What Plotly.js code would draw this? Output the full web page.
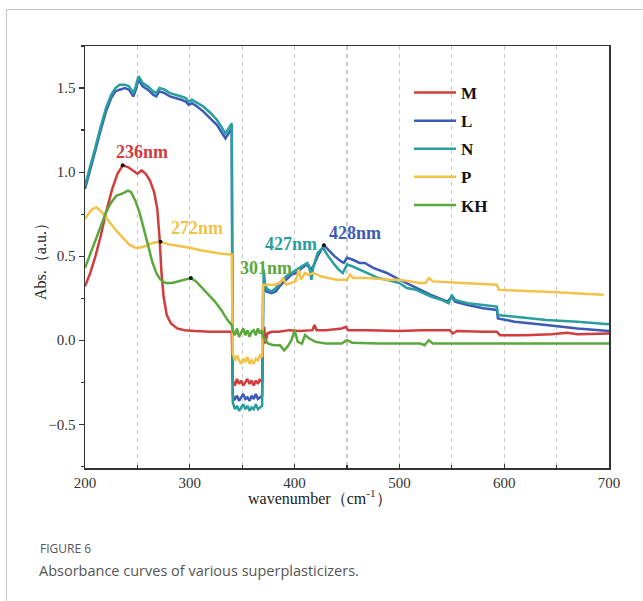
<!DOCTYPE html>
<html>
<head>
<meta charset="utf-8">
<script src="https://cdn.plot.ly/plotly-3.0.1.min.js"></script>
<style>
  html, body { margin: 0; padding: 0; background: #fff; }
  #chart { width: 643px; height: 601px; }
</style>
</head>
<body>
<div id="chart"></div>
<script>
// UV absorbance spectra of five superplasticizers
const seriesNames = ["M", "L", "N", "P", "KH"];
const seriesColors = ["#d23c3c", "#3a5bb8", "#2a9d9d", "#f2c24a", "#5aa83c"];

// M
const mWl = [200,205,210,215,220,226,231,236,241,246,250,254,258,262,266,269,271,273,275,278,282,288,295,305,320,340,
  341,343,345,347,349,351,353,355,357,359,361,363,365,367,369,
  370,371,372,374,378,385,395,405,412,417,419,421,430,445,449,451,470,500,520,540,548,551,555,580,593,596,620,645,660,670,700];
const mAbs = [0.32,0.40,0.50,0.62,0.76,0.90,0.99,1.04,1.03,1.01,0.99,1.01,0.99,0.95,0.88,0.78,0.62,0.40,0.26,0.15,0.10,0.07,0.06,0.055,0.05,0.05,
  -0.24,-0.27,-0.23,-0.26,-0.24,-0.27,-0.25,-0.23,-0.26,-0.24,-0.27,-0.24,-0.26,-0.23,-0.25,
  0.05,0.08,-0.02,0.04,0.05,0.05,0.06,0.055,0.06,0.06,0.09,0.06,0.06,0.07,0.08,0.06,0.06,0.055,0.06,0.06,0.06,0.04,0.055,0.05,0.05,0.03,0.03,0.035,0.045,0.035,0.04];

// L
const lWl = [200,205,210,215,220,225,229,233,238,242,246,248,251,255,260,265,268,271,276,281,287,292,296,299,302,307,313,320,326,330,334,337,340,
  341,343,345,347,349,351,353,355,357,359,361,363,365,367,369,
  370,373,378,382,387,392,397,402,407,412,415,418,422,428,433,438,444,447,450,455,462,467,475,488,500,517,530,546,550,553,565,580,593,594,610,640,670,700];
const lAbs = [0.90,1.01,1.13,1.25,1.36,1.44,1.48,1.49,1.50,1.49,1.45,1.48,1.55,1.51,1.49,1.46,1.45,1.48,1.47,1.45,1.44,1.43,1.42,1.40,1.41,1.39,1.36,1.32,1.28,1.24,1.20,1.23,1.26,
  -0.33,-0.35,-0.33,-0.36,-0.34,-0.32,-0.35,-0.34,-0.36,-0.33,-0.35,-0.32,-0.35,-0.34,-0.33,
  0.32,0.29,0.28,0.29,0.33,0.36,0.39,0.40,0.43,0.45,0.42,0.44,0.50,0.565,0.53,0.50,0.47,0.46,0.49,0.48,0.46,0.46,0.43,0.40,0.36,0.31,0.27,0.23,0.26,0.23,0.21,0.19,0.18,0.13,0.11,0.09,0.07,0.055];

// N
const nWl = [200,205,210,215,220,225,229,233,238,242,246,248,251,255,260,265,268,271,276,281,287,292,296,299,302,307,313,320,326,330,334,337,340,
  341,343,345,347,349,351,353,355,357,359,361,363,365,367,369,
  370.5,372,375,378,382,387,392,397,402,407,412,414,416,418,422,427,432,438,442,446,450,455,462,470,480,488,500,507,516,530,540,547,550,553,565,580,593,594,610,640,670,700];
const nAbs = [0.92,1.03,1.15,1.27,1.38,1.46,1.50,1.52,1.52,1.51,1.47,1.50,1.57,1.53,1.51,1.48,1.47,1.50,1.49,1.47,1.46,1.45,1.44,1.42,1.43,1.41,1.39,1.35,1.31,1.27,1.23,1.26,1.29,
  -0.37,-0.41,-0.39,-0.42,-0.40,-0.38,-0.41,-0.39,-0.42,-0.40,-0.41,-0.38,-0.41,-0.40,-0.39,
  0.42,0.32,0.30,0.29,0.31,0.35,0.38,0.40,0.42,0.44,0.46,0.44,0.36,0.44,0.52,0.55,0.50,0.45,0.42,0.40,0.45,0.44,0.42,0.40,0.37,0.36,0.34,0.31,0.30,0.26,0.24,0.22,0.27,0.24,0.22,0.21,0.20,0.15,0.14,0.12,0.11,0.095];

// P
const pWl = [200,203,207,211,215,220,225,230,236,242,248,252,258,265,272,280,290,300,310,320,330,340,
  341,343,345,347,349,351,353,355,357,359,361,363,365,367,369,
  370,375,380,386,389,392,397,401,404,406,410,413,418,425,432,440,450,453,456,470,490,500,520,525,528,532,560,593,595,620,650,680,695];
const pAbs = [0.72,0.75,0.78,0.79,0.77,0.73,0.69,0.65,0.61,0.57,0.55,0.55,0.56,0.58,0.585,0.57,0.56,0.55,0.535,0.525,0.515,0.51,
  -0.08,-0.12,-0.09,-0.12,-0.14,-0.11,-0.13,-0.10,-0.14,-0.12,-0.14,-0.11,-0.12,-0.09,-0.10,
  0.33,0.33,0.33,0.34,0.37,0.33,0.34,0.35,0.42,0.36,0.40,0.39,0.40,0.38,0.37,0.36,0.36,0.39,0.37,0.37,0.36,0.36,0.34,0.34,0.37,0.35,0.34,0.33,0.30,0.295,0.285,0.275,0.27];

// KH
const khWl = [200,205,210,215,220,225,230,235,238,241,244,248,252,256,260,264,268,272,277,283,290,296,301,306,312,318,324,330,336,340,
  341,343,345,347,349,351,353,355,357,359,361,363,365,367,369,
  370,372,375,380,386,390,393,397,400,403,407,410,414,420,430,445,450,455,480,520,524,528,532,560,700];
const khAbs = [0.43,0.51,0.60,0.68,0.76,0.82,0.86,0.87,0.88,0.89,0.88,0.83,0.76,0.67,0.57,0.47,0.40,0.36,0.34,0.34,0.35,0.36,0.37,0.35,0.31,0.27,0.23,0.18,0.12,0.09,
  0.06,0.03,0.07,0.02,0.05,0.07,0.03,0.06,0.02,0.05,0.06,0.03,0.07,0.04,0.06,
  0.02,0.00,-0.02,-0.03,-0.03,-0.06,-0.04,0.00,0.06,-0.01,-0.02,0.03,0.01,-0.01,-0.02,-0.02,0.00,-0.015,-0.02,-0.02,-0.03,0.00,-0.02,-0.02,-0.02];

// Labelled absorption peaks
const peakWl = [236, 272, 301, 427, 428];
const peakAbs = [1.04, 0.585, 0.37, 0.55, 0.565];
const peakColors = ["#d23c3c", "#f2c24a", "#5aa83c", "#2a9d9d", "#3a5bb8"];
const peakLabelPos = [[254, 1.12], [307, 0.667], [373, 0.43], [397, 0.57], [458, 0.64]];

const xTicks = [200, 300, 400, 500, 600, 700];
const yTicks = [-0.5, 0.0, 0.5, 1.0, 1.5];

const wls = [mWl, lWl, nWl, pWl, khWl];
const abss = [mAbs, lAbs, nAbs, pAbs, khAbs];

const serif = "Liberation Serif";

const traces = seriesNames.map((name, i) => ({
  type: "scatter",
  mode: "lines",
  name: name,
  legendgroup: name,
  x: wls[i],
  y: abss[i],
  line: { color: seriesColors[i], width: 2.5 },
  hoverinfo: "x+y+name"
}));

traces.push({
  type: "scatter",
  mode: "markers",
  x: [peakWl[0], peakWl[1], peakWl[2], peakWl[4]],
  y: [peakAbs[0], peakAbs[1], peakAbs[2], peakAbs[4]],
  marker: { color: "#111", size: 4 },
  showlegend: false,
  hoverinfo: "x+y"
});

// pixel helpers for page furniture placed outside the plot area
const L = 85, R = 609, T = 46, B = 468;
const px = v => (v - L) / (R - L);
const py = v => (B - v) / (B - T);

const annotations = peakWl.map((w, i) => ({
  x: peakLabelPos[i][0], y: peakLabelPos[i][1],
  xref: "x", yref: "y",
  text: "<b>" + w + "nm</b>",
  showarrow: false,
  font: { family: serif, size: 18, color: peakColors[i] }
}));

// axis titles placed by hand so they sit close to the tick labels
annotations.push({
  xref: "paper", yref: "paper", x: px(320), y: py(497),
  xanchor: "center", yanchor: "middle",
  text: "wavenumber（cm<sup>-1</sup>）", showarrow: false,
  font: { family: serif, size: 16, color: "#222" }
});
annotations.push({
  xref: "paper", yref: "paper", x: px(40), y: py(258),
  xanchor: "center", yanchor: "middle", textangle: -90,
  text: "Abs.（a.u.）", showarrow: false,
  font: { family: serif, size: 16, color: "#222" }
});

annotations.push({
  xref: "paper", yref: "paper", x: px(38), y: py(548),
  xanchor: "left", yanchor: "middle",
  text: "FIGURE 6", showarrow: false,
  font: { family: "Open Sans", size: 12, color: "#555" }
});
annotations.push({
  xref: "paper", yref: "paper", x: px(37), y: py(570),
  xanchor: "left", yanchor: "middle",
  text: "Absorbance curves of various superplasticizers.", showarrow: false,
  font: { family: "Open Sans", size: 14.5, color: "#555" }
});

const frameColor = "#c4c4c4";
const shapes = [
  { type: "line", xref: "paper", yref: "paper", x0: px(6), x1: px(643), y0: py(9.5), y1: py(9.5), line: { color: frameColor, width: 1 } },
  { type: "line", xref: "paper", yref: "paper", x0: px(6.5), x1: px(6.5), y0: py(9), y1: py(601), line: { color: frameColor, width: 1 } }
];

const gridDash = "4px,4px";
const gridColor = "#c8c8c8";

const layout = {
  width: 643, height: 601,
  margin: { l: L, r: 643 - R, t: T, b: 601 - B },
  paper_bgcolor: "#fff", plot_bgcolor: "#fff",
  font: { family: serif, color: "#333" },
  showlegend: true,
  legend: {
    x: px(409), y: py(75), xanchor: "left", yanchor: "top",
    bgcolor: "rgba(0,0,0,0)",
    font: { family: serif, size: 17, color: "#111", weight: "bold" },
    traceorder: "grouped", tracegroupgap: 3,
    itemwidth: 42
  },
  xaxis: {
    range: [200, 700],
    tickvals: xTicks,
    ticktext: xTicks.map(String),
    ticks: "inside", ticklen: 4, tickwidth: 1.2, tickcolor: "#333",
    showline: true, linecolor: "#333", linewidth: 1.5, mirror: true,
    showgrid: true, gridcolor: gridColor, griddash: gridDash, gridwidth: 1.2,
    minor: { dtick: 50, tick0: 200, ticks: "inside", ticklen: 3, tickcolor: "#333", showgrid: true, gridcolor: gridColor, griddash: gridDash, gridwidth: 1.2 },
    zeroline: false,
    tickfont: { family: serif, size: 15, color: "#333" },
    ticklabelstandoff: 0
  },
  yaxis: {
    range: [-0.76, 1.75],
    tickvals: yTicks,
    ticktext: yTicks.map(v => (v < 0 ? "\u2212" : "") + Math.abs(v).toFixed(1)),
    ticks: "outside", ticklen: 5, tickwidth: 1.2, tickcolor: "#333",
    showline: true, linecolor: "#333", linewidth: 1.5, mirror: true,
    showgrid: false,
    minor: { dtick: 0.25, tick0: 0, ticks: "outside", ticklen: 3, tickcolor: "#333", showgrid: false },
    zeroline: false,
    tickfont: { family: serif, size: 15, color: "#333" }
  },
  annotations: annotations,
  shapes: shapes
};

Plotly.newPlot("chart", traces, layout, { displayModeBar: false, staticPlot: true });
</script>
</body>
</html>
